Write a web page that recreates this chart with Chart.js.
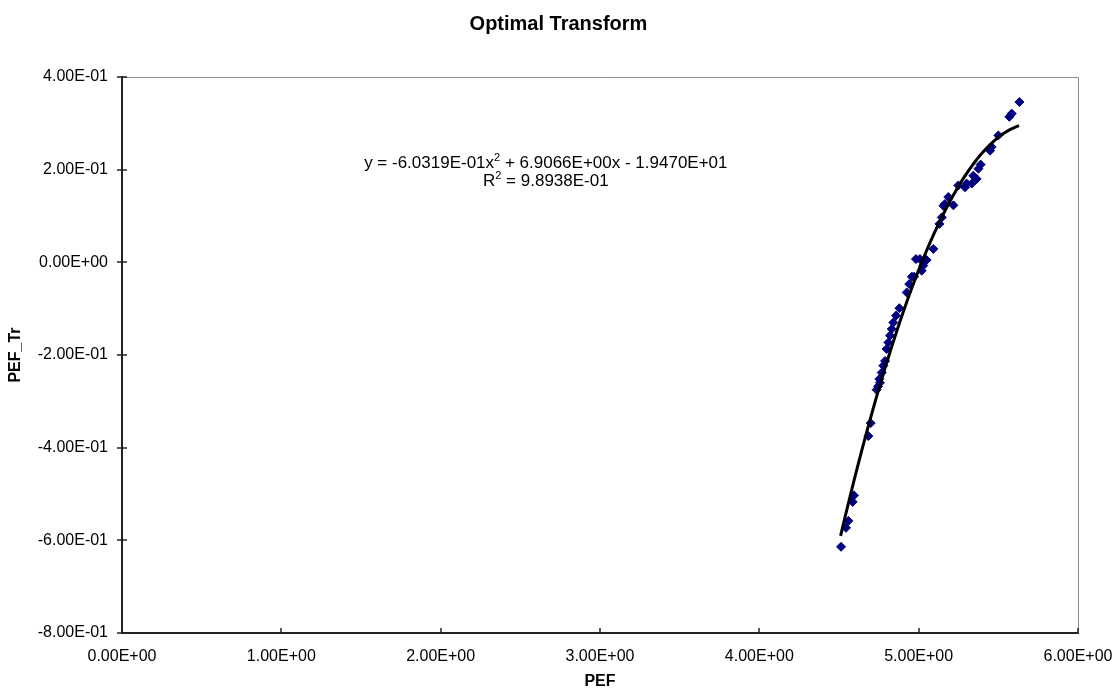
<!DOCTYPE html>
<html lang="en">
<head>
    <meta charset="UTF-8">
    <title>Optimal Transform</title>
    <script src="https://cdn.jsdelivr.net/npm/chart.js"></script>
    <style>
        body { margin: 0; background: #fff; }
    </style>
</head>
<body>
    <canvas id="myChart" width="1117" height="690"></canvas>

    <script>
        // values
        var pef = [4.513, 4.544, 4.559, 4.586, 4.594, 4.684, 4.699, 4.736, 4.745, 4.753,
                   4.757, 4.768, 4.778, 4.789, 4.799, 4.810, 4.820, 4.831, 4.841, 4.858,
                   4.879, 4.925, 4.941, 4.957, 4.971, 4.983, 5.008, 5.019, 5.029, 5.050,
                   5.092, 5.130, 5.145, 5.155, 5.165, 5.186, 5.218, 5.249, 5.291, 5.301,
                   5.333, 5.343, 5.364, 5.375, 5.389, 5.448, 5.458, 5.500, 5.569, 5.584,
                   5.632];
        var pefTr = [-0.614, -0.573, -0.558, -0.517, -0.503, -0.375, -0.347, -0.275, -0.268, -0.252,
                     -0.260, -0.238, -0.223, -0.213, -0.187, -0.173, -0.158, -0.144, -0.130, -0.115,
                     -0.099, -0.065, -0.047, -0.031, -0.031, 0.007, 0.007, -0.018, -0.007, 0.005,
                     0.029, 0.083, 0.097, 0.122, 0.126, 0.141, 0.123, 0.166, 0.162, 0.170,
                     0.170, 0.187, 0.180, 0.202, 0.211, 0.241, 0.249, 0.274, 0.314, 0.321,
                     0.346];

        // polynomial trendline as printed on the chart (a2, a1, a0)
        var trendCoef = [-6.0319E-01, 6.9066E+00, -1.9470E+01];
        var trendRange = [4.51, 5.63];
        var eqLines = ["y = -6.0319E-01x|2| + 6.9066E+00x - 1.9470E+01", "R|2| = 9.8938E-01"];

        var xTicks = [0, 1, 2, 3, 4, 5, 6];
        var yTicks = [-0.8, -0.6, -0.4, -0.2, 0, 0.2, 0.4];

        var points = pef.map(function(x, i) { return {x: x, y: pefTr[i]}; });

        var trend = [];
        for (var x = trendRange[0]; x <= trendRange[1] + 1e-9; x += 0.02) {
            trend.push({x: x, y: trendCoef[0] * x * x + trendCoef[1] * x + trendCoef[2]});
        }

        function excelExp(v) {
            if (Math.abs(v) < 1e-9) v = 0;
            var parts = v.toExponential(2).split("e");
            var sign = parts[1][0] === "-" ? "-" : "+";
            var d = parts[1].replace(/[+-]/, "");
            if (d.length < 2) d = "0" + d;
            return parts[0] + "E" + sign + d;
        }

        var FONT = "'Liberation Sans', Arial, sans-serif";

        var decor = {
            id: "decor",
            beforeDatasetsDraw: function(chart) {
                var ctx = chart.ctx, a = chart.chartArea;
                var xs = chart.scales.x, ys = chart.scales.y;
                ctx.save();
                // grey frame top / right
                ctx.strokeStyle = "#8c8c8c";
                ctx.lineWidth = 1;
                ctx.beginPath();
                ctx.moveTo(a.left, a.top + 0.5);
                ctx.lineTo(a.right + 0.5, a.top + 0.5);
                ctx.lineTo(a.right + 0.5, a.bottom);
                ctx.stroke();
                // tick marks crossing the axes
                ctx.strokeStyle = "#222";
                ctx.lineWidth = 1.5;
                ctx.beginPath();
                yTicks.forEach(function(v) {
                    var p = Math.round(ys.getPixelForValue(v));
                    ctx.moveTo(a.left - 5, p);
                    ctx.lineTo(a.left + 5, p);
                });
                xTicks.forEach(function(v) {
                    var p = Math.round(xs.getPixelForValue(v));
                    ctx.moveTo(p, a.bottom - 5);
                    ctx.lineTo(p, a.bottom + 1);
                });
                ctx.stroke();
                ctx.restore();
            },
            afterDraw: function(chart) {
                var ctx = chart.ctx, a = chart.chartArea;
                ctx.save();
                ctx.fillStyle = "#000";
                ctx.textAlign = "center";
                ctx.textBaseline = "middle";
                ctx.font = "bold 20px " + FONT;
                ctx.fillText("Optimal Transform", chart.width / 2, 24);
                ctx.font = "bold 16px " + FONT;
                ctx.fillText("PEF", (a.left + a.right) / 2, 682);
                ctx.save();
                ctx.translate(16, (a.top + a.bottom) / 2);
                ctx.rotate(-Math.PI / 2);
                ctx.fillText("PEF_Tr", 0, 0);
                ctx.restore();

                // trendline equation
                var cx = chart.scales.x.getPixelForValue(2.66);
                var cy = chart.scales.y.getPixelForValue(0.213);
                eqLines.forEach(function(line, li) {
                    var segs = line.split("|");
                    var w = 0;
                    segs.forEach(function(s, i) {
                        ctx.font = (i % 2 ? "11px " : "17px ") + FONT;
                        w += ctx.measureText(s).width;
                    });
                    var px = cx - w / 2;
                    ctx.textAlign = "left";
                    segs.forEach(function(s, i) {
                        ctx.font = (i % 2 ? "11px " : "17px ") + FONT;
                        ctx.fillText(s, px, cy + li * 18 - (i % 2 ? 6 : 0));
                        px += ctx.measureText(s).width;
                    });
                });
                ctx.restore();
            }
        };

        var ctx = document.getElementById("myChart").getContext("2d");
        var myChart = new Chart(ctx, {
            type: "scatter",
            data: {
                datasets: [{
                    label: "trend",
                    data: trend,
                    showLine: true,
                    borderColor: "#000",
                    borderWidth: 3,
                    pointRadius: 0,
                    fill: false
                }, {
                    label: "PEF_Tr",
                    data: points,
                    pointStyle: "rectRot",
                    pointRadius: 4.5,
                    backgroundColor: "#000080",
                    borderColor: "#000080",
                    borderWidth: 1
                }]
            },
            options: {
                responsive: false,
                animation: false,
                devicePixelRatio: 1,
                layout: { padding: { top: 77, right: 39, left: 0, bottom: 0 } },
                plugins: {
                    legend: { display: false },
                    tooltip: { enabled: false },
                    title: { display: false }
                },
                scales: {
                    x: {
                        type: "linear",
                        min: 0, max: 6,
                        grid: { display: false },
                        border: { display: true, color: "#222", width: 2 },
                        afterFit: function(s) { s.height = 57; s.paddingLeft = 0; s.paddingRight = 0; },
                        afterBuildTicks: function(s) { s.ticks = xTicks.map(function(v) { return {value: v}; }); },
                        ticks: {
                            padding: 6,
                            color: "#000",
                            font: { family: FONT, size: 16 },
                            maxRotation: 0,
                            callback: function(v) { return excelExp(v); }
                        }
                    },
                    y: {
                        type: "linear",
                        min: -0.8, max: 0.4,
                        grid: { display: false },
                        border: { display: true, color: "#222", width: 2 },
                        afterFit: function(s) { s.width = 122; s.paddingTop = 0; s.paddingBottom = 0; },
                        afterBuildTicks: function(s) { s.ticks = yTicks.map(function(v) { return {value: v}; }); },
                        ticks: {
                            padding: 6,
                            color: "#000",
                            font: { family: FONT, size: 16 },
                            callback: function(v) { return excelExp(v); }
                        }
                    }
                }
            },
            plugins: [decor]
        });
    </script>
</body>
</html>
